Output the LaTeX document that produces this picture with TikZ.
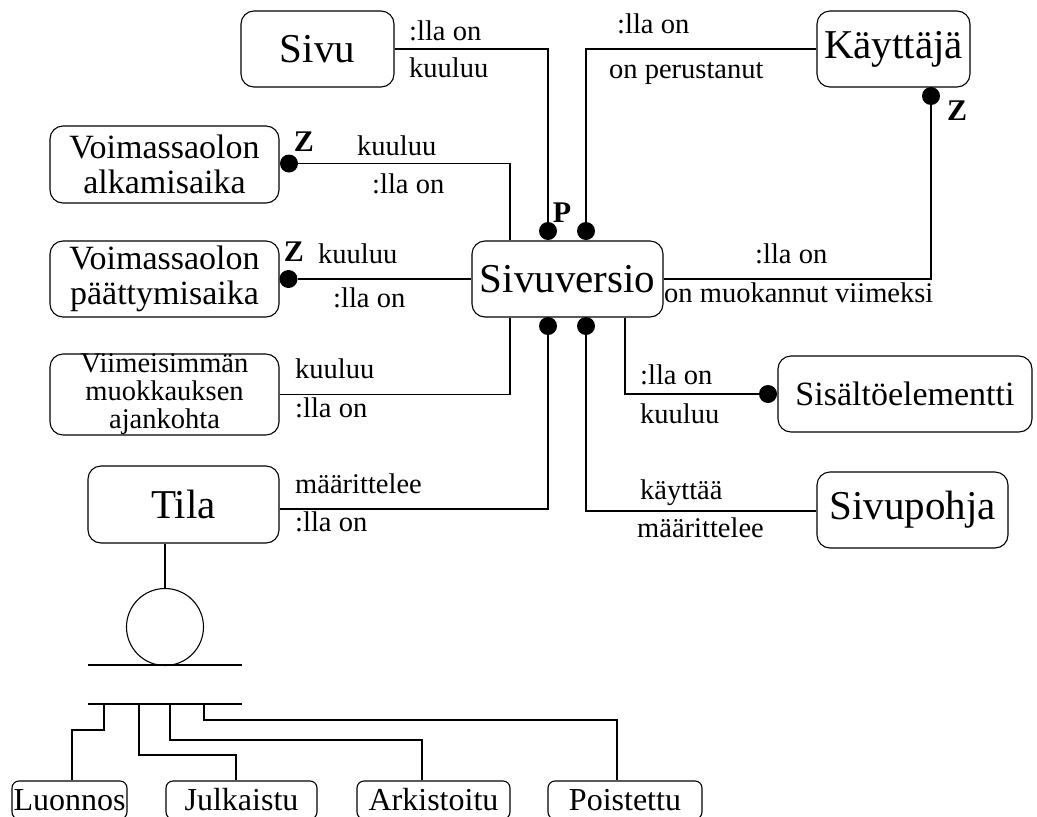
\documentclass[tikz,border=0pt]{standalone}
\usepackage{fontspec}
\setmainfont{Liberation Serif}
\begin{document}
\begin{tikzpicture}[x=1pt,y=-1pt,
  ent/.style={draw, line width=1.1pt, rounded corners=13pt, inner sep=0pt, align=center},
  bigtxt/.style={font=\fontsize{41}{45}\selectfont},
  midtxt/.style={font=\fontsize{34}{35}\selectfont},
  smalltxt/.style={font=\fontsize{28.5}{28}\selectfont},
  statebox/.style={draw, line width=1.1pt, rounded corners=7pt, inner sep=0pt,
    minimum height=38pt, font=\fontsize{32}{34}\selectfont},
  lab/.style={anchor=base west, inner sep=0pt, font=\fontsize{28.5}{30}\selectfont},
  dot/.style={circle, fill=black, inner sep=0pt, minimum size=18pt},
  mark letter/.style={inner sep=0pt, font=\bfseries\fontsize{30}{30}\selectfont},
  conn/.style={line width=1.1pt}
]
\useasboundingbox (0,0) rectangle (1037,817);

% entities
\node[ent,bigtxt,minimum width=153pt,minimum height=76pt] (sivu) at (317.5,49) {Sivu};
\node[ent,bigtxt,minimum width=153pt,minimum height=76pt] (kay) at (893.5,49) {Käyttäjä};
\node[ent,midtxt,minimum width=229pt,minimum height=77pt] (valk) at (164.5,164.5) {Voimassaolon\\alkamisaika};
\node[ent,midtxt,minimum width=229pt,minimum height=76pt] (vpaat) at (164.5,279) {Voimassaolon\\päättymisaika};
\node[ent,bigtxt,minimum width=191pt,minimum height=76pt] (sv) at (567.5,279) {Sivuversio};
\node[ent,smalltxt,minimum width=229pt,minimum height=77pt] (viim) at (164.5,394.5) {Viimeisimmän\\muokkauksen\\ajankohta};
\node[ent,midtxt,minimum width=254pt,minimum height=76pt] (sis) at (905,394) {Sisältöelementti};
\node[ent,bigtxt,minimum width=191pt,minimum height=77pt] (tila) at (183.5,504.5) {Tila};
\node[ent,bigtxt,minimum width=191pt,minimum height=76pt] (spohja) at (912.5,510) {Sivupohja};

% cardinality dots
\node[dot] (dP) at (548,231) {};
\node[dot] (dK) at (586,231) {};
\node[dot] (dB1) at (548,326) {};
\node[dot] (dB2) at (586,326) {};
\node[dot] (dvalk) at (289,163.5) {};
\node[dot] (dvpaat) at (288.5,279) {};
\node[dot] (dkay) at (931,96) {};
\node[dot] (dsis) at (768,394) {};

% letters beside the dots
\node[mark letter] (zA) at (304,142) {Z};
\node[mark letter] (zB) at (294,252) {Z};
\node[mark letter] (zC) at (957,111) {Z};
\node[mark letter] (pA) at (562,213) {P};

% relationships
\draw[conn] (sivu.east) -| (dP);
\draw[conn] (kay.west) -| (dK);
\draw[conn] (dvalk) -| ([xshift=-57.5pt]sv.north);
\draw[conn] (dvpaat) -- (sv.west);
\draw[conn] (sv.east) -| (dkay);
\draw[conn] (viim.east) -| ([xshift=-57.5pt]sv.south);
\draw[conn] (dsis) -| ([xshift=57.5pt]sv.south);
\draw[conn] ([yshift=-4.5pt]tila.east) -| (dB1);
\draw[conn] ([yshift=-1pt]spohja.west) -| (dB2);

% role names
\node[lab] (l1) at (409,40) {:lla on};
\node[lab] (l2) at (409,77) {kuuluu};
\node[lab] (l3) at (617,33) {:lla on};
\node[lab] (l4) at (609,78) {on perustanut};
\node[lab] (l5) at (357,155) {kuuluu};
\node[lab] (l6) at (372,193) {:lla on};
\node[lab] (l7) at (318,263) {kuuluu};
\node[lab] (l8) at (333,307) {:lla on};
\node[lab] (l9) at (755,263) {:lla on};
\node[lab] (l10) at (664,302) {on muokannut viimeksi};
\node[lab] (l11) at (295,378) {kuuluu};
\node[lab] (l12) at (295,417) {:lla on};
\node[lab] (l13) at (640,384) {:lla on};
\node[lab] (l14) at (640,423) {kuuluu};
\node[lab] (l15) at (295,493) {määrittelee};
\node[lab] (l16) at (295,531) {:lla on};
\node[lab] (l17) at (640,499) {käyttää};
\node[lab] (l18) at (637,537) {määrittelee};

% state generalisation
\node[draw, circle, line width=1.1pt, inner sep=0pt, minimum size=77pt] (circ) at (165,627) {};
\draw[conn] (circ.north |- tila.south) -- (circ.north);
\draw[conn] (88,665) -- (242,665);
\draw[conn] (88,704) -- (242,704);
\coordinate (b1) at (104,704);
\coordinate (b2) at (139,704);
\coordinate (b3) at (170,704);
\coordinate (b4) at (204,704);

\node[statebox,minimum width=115pt] (luon) at (69.5,800) {Luonnos};
\node[statebox,minimum width=151pt] (julk) at (241.5,800) {Julkaistu};
\node[statebox,minimum width=153pt] (ark) at (433.5,800) {Arkistoitu};
\node[statebox,minimum width=154pt] (pois) at (625,800) {Poistettu};

\draw[conn] (b1) -- ++(0,26) -| ([xshift=2.5pt]luon.north);
\draw[conn] (b2) -- ++(0,51) -| ([xshift=-5.5pt]julk.north);
\draw[conn] (b3) -- ++(0,36) -| ([xshift=-11.5pt]ark.north);
\draw[conn] (b4) -- ++(0,16) -| ([xshift=-8pt]pois.north);
\end{tikzpicture}
\end{document}
